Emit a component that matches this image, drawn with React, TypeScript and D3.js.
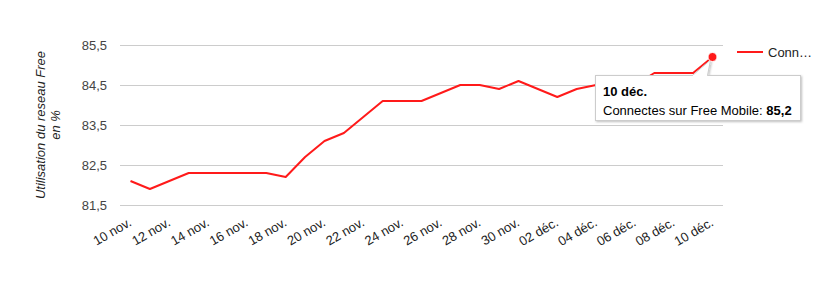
import React from "react";
import * as d3 from "d3";

const dates: string[] = [
  "2012-11-10","2012-11-11","2012-11-12","2012-11-13","2012-11-14","2012-11-15","2012-11-16",
  "2012-11-17","2012-11-18","2012-11-19","2012-11-20","2012-11-21","2012-11-22","2012-11-23",
  "2012-11-24","2012-11-25","2012-11-26","2012-11-27","2012-11-28","2012-11-29","2012-11-30",
  "2012-12-01","2012-12-02","2012-12-03","2012-12-04","2012-12-05","2012-12-06","2012-12-07",
  "2012-12-08","2012-12-09","2012-12-10",
];
const values: number[] = [
  82.1, 81.9, 82.1, 82.3, 82.3, 82.3, 82.3,
  82.3, 82.2, 82.7, 83.1, 83.3, 83.7, 84.1,
  84.1, 84.1, 84.3, 84.5, 84.5, 84.4, 84.6,
  84.4, 84.2, 84.4, 84.5, 84.5, 84.5, 84.8,
  84.8, 84.8, 85.2,
];
const yTicks: number[] = [81.5, 82.5, 83.5, 84.5, 85.5];
const xTickLabels: string[] = [
  "10 nov.","12 nov.","14 nov.","16 nov.","18 nov.","20 nov.","22 nov.","24 nov.",
  "26 nov.","28 nov.","30 nov.","02 déc.","04 déc.","06 déc.","08 déc.","10 déc.",
];
const seriesName = "Connectes sur Free Mobile";
const legendLabel = "Conn…";
const yLabelLines: string[] = ["Utilisation du reseau Free", "en %"];

const FONT = "Arial, 'Liberation Sans', sans-serif";

export default function App() {
  const parse = d3.timeParse("%Y-%m-%d");
  const data = dates.map((d, i) => ({ date: parse(d) as Date, value: values[i] }));
  const x = d3
    .scaleTime()
    .domain([data[0].date, data[data.length - 1].date])
    .range([130.5, 712.5]);
  const y = d3.scaleLinear().domain([81.5, 85.5]).range([205, 45]);
  const line = d3
    .line<{ date: Date; value: number }>()
    .x((d) => x(d.date))
    .y((d) => y(d.value));
  const fmt = (v: number) => v.toFixed(1).replace(".", ",");
  const tickDates = xTickLabels.map((_, i) => d3.timeDay.offset(data[0].date, i * 2));
  const last = data[data.length - 1];
  const px = x(last.date);
  const py = y(last.value);

  const tipX = 595.5;
  const tipY = 75.5;
  const tipW = 205;
  const tipH = 45;

  return (
    <div style={{ position: "absolute", left: 0, top: 0 }}>
      <svg width={835} height={281} style={{ display: "block" }} fontFamily={FONT}>
        <defs>
          <filter id="shadow" x="-10%" y="-20%" width="130%" height="160%">
            <feDropShadow dx="1" dy="1" stdDeviation="1.2" floodColor="#000" floodOpacity="0.25" />
          </filter>
        </defs>
        <rect width={835} height={281} fill="#fff" />
        {yTicks.map((t) => (
          <g key={t}>
            <line x1={120} x2={723} y1={Math.round(y(t)) + 0.5} y2={Math.round(y(t)) + 0.5} stroke="#cccccc" strokeWidth={1} />
            <text x={107} y={y(t) + 4.5} textAnchor="end" fontSize={13} fill="#444">
              {fmt(t)}
            </text>
          </g>
        ))}
        {tickDates.map((d, i) => (
          <text
            key={i}
            transform={`translate(${x(d) + 2},${225}) rotate(-30)`}
            textAnchor="end"
            fontSize={13}
            fill="#222"
          >
            {xTickLabels[i]}
          </text>
        ))}
        <g transform="translate(41,125) rotate(-90)">
          {yLabelLines.map((l, i) => (
            <text key={i} x={0} y={i * 15 + 4} textAnchor="middle" fontSize={13} fontStyle="italic" fill="#222">
              {l}
            </text>
          ))}
        </g>
        <path d={line(data) ?? ""} fill="none" stroke="#ff1a1a" strokeWidth={2} strokeLinejoin="round" />
        {/* legend */}
        <line x1={737} x2={763} y1={52} y2={52} stroke="#ff1a1a" strokeWidth={2} />
        <text x={768} y={56.5} fontSize={13} fill="#222">
          {legendLabel}
        </text>
        {/* tooltip */}
        <g filter="url(#shadow)">
          <rect x={tipX} y={tipY} width={tipW} height={tipH} fill="#fff" stroke="#ccc" strokeWidth={1} />
          <path
            d={`M${tipX + 97},${tipY} L${px - 2},${py + 3} L${tipX + 112},${tipY}`}
            fill="#fff"
            stroke="#ccc"
            strokeWidth={1}
          />
        </g>
        <rect x={tipX + 97.5} y={tipY - 0.5} width={14} height={2} fill="#fff" />
        <text x={603} y={96} fontSize={13} fontWeight="bold" fill="#000">
          10 déc.
        </text>
        <text x={603} y={115} fontSize={13} fill="#000">
          {seriesName}: <tspan fontWeight="bold">{fmt(last.value)}</tspan>
        </text>
        <circle cx={px} cy={py} r={4.5} fill="#ff1a1a" stroke="#fff" strokeWidth={1} />
      </svg>
    </div>
  );
}
